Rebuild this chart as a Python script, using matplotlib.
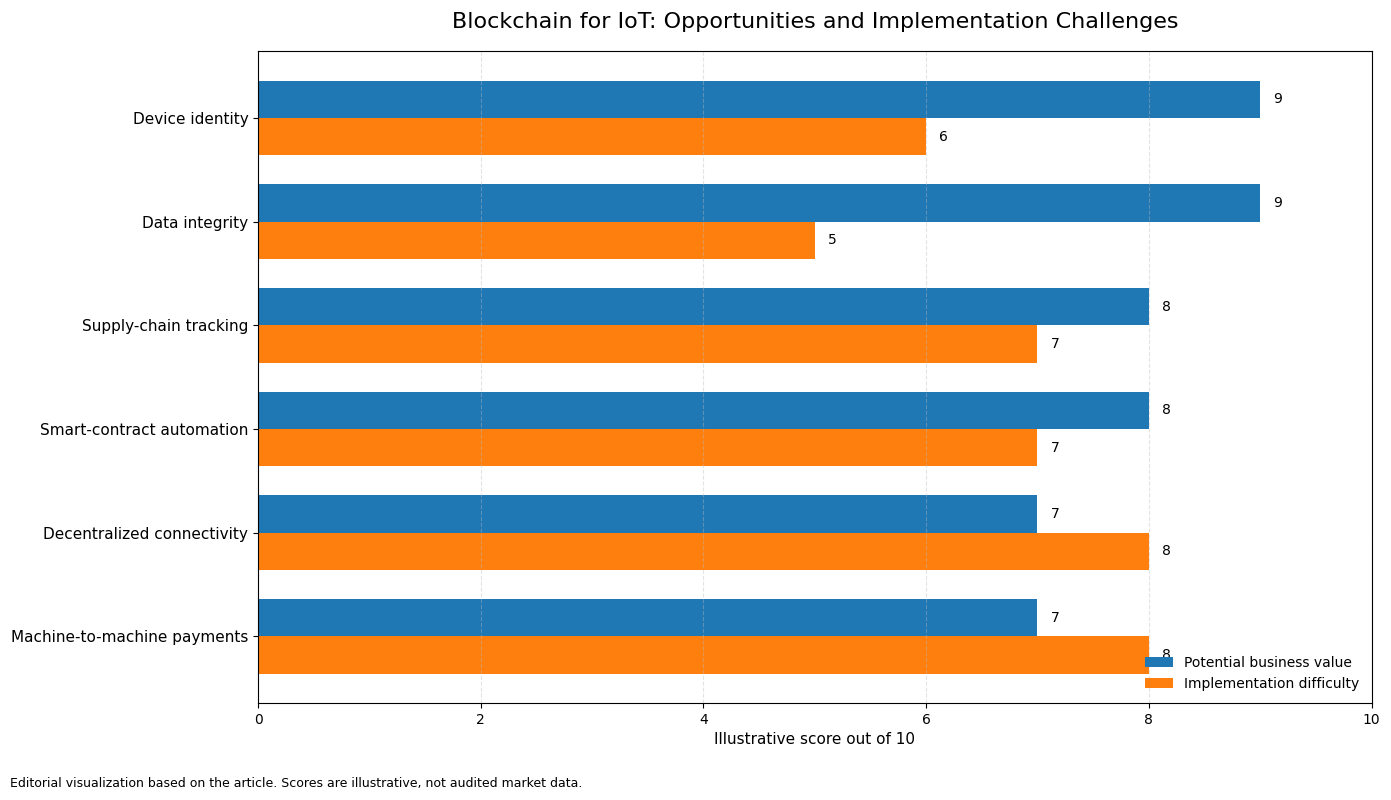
import numpy as np
import matplotlib.pyplot as plt

# Dane
categories = ['Device identity', 'Data integrity', 'Supply-chain tracking',
              'Smart-contract automation', 'Decentralized connectivity',
              'Machine-to-machine payments']
value_scores = [9, 9, 8, 8, 7, 7]
difficulty_scores = [6, 5, 7, 7, 8, 8]


def main():
    y = np.arange(len(categories))
    h = 0.36

    fig, ax = plt.subplots(figsize=(13.91, 8), dpi=100)
    b1 = ax.barh(y - h/2, value_scores, height=h, color='#1f77b4',
                 label='Potential business value')
    b2 = ax.barh(y + h/2, difficulty_scores, height=h, color='#ff7f0e',
                 label='Implementation difficulty')

    # Etykiety wartosci
    for bars in (b1, b2):
        for bar in bars:
            w = bar.get_width()
            ax.text(w + 0.12, bar.get_y() + bar.get_height()/2, f'{w:g}',
                    va='center', ha='left', fontsize=10)

    ax.set_yticks(y)
    ax.set_yticklabels(categories, fontsize=11)
    ax.invert_yaxis()
    ax.set_xlim(0, 10)
    ax.set_xlabel('Illustrative score out of 10', fontsize=11)
    ax.set_title('Blockchain for IoT: Opportunities and Implementation Challenges',
                 fontsize=16, pad=17)
    ax.grid(axis='x', linestyle='--', alpha=0.4, color='#bbbbbb')
    ax.legend(loc='lower right', frameon=False, fontsize=10)

    fig.text(0.007, 0.016, 'Editorial visualization based on the article. '
             'Scores are illustrative, not audited market data.', fontsize=9)
    fig.subplots_adjust(left=0.1855, right=0.986, top=0.936, bottom=0.121)
    fig.savefig('out.png', dpi=100)


if __name__ == "__main__":
    main()
